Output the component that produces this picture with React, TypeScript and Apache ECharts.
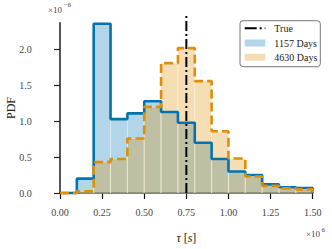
import React, { useEffect, useRef } from "react";
import * as echarts from "echarts";

// bin edges in units of 1e6 s
const binEdges = [0, 0.1, 0.2, 0.3, 0.4, 0.5, 0.6, 0.7, 0.8, 0.9, 1.0, 1.1, 1.2, 1.3, 1.4, 1.5];
// PDF values in units of 1e-6
const pdf1157 = [0, 0.2, 2.36, 1.03, 1.11, 1.28, 1.13, 0.98, 0.7, 0.475, 0.3, 0.25, 0.12, 0.08, 0.07];
const pdf4630 = [0, 0.025, 0.43, 0.475, 0.76, 1.2, 1.81, 2.02, 1.56, 0.86, 0.48, 0.23, 0.1, 0.065, 0.05];
const trueValue = 0.75;
const xTicks = [0, 0.25, 0.5, 0.75, 1.0, 1.25, 1.5];
const yTicks = [0, 0.5, 1.0, 1.5, 2.0];
const labels = ["True", "1157 Days", "4630 Days"];

const BLUE = "#0173b2";
const ORANGE = "#de8f05";
const BLUE_FILL = "rgba(1,115,178,0.3)";
const ORANGE_FILL = "rgba(222,143,5,0.3)";
const FONT = "Liberation Serif";

function barData(vals: number[]) {
  return vals.map((v, i) => [binEdges[i], binEdges[i + 1], v]);
}
function stepData(vals: number[]) {
  const pts: number[][] = vals.map((v, i) => [binEdges[i], v]);
  pts.push([binEdges[binEdges.length - 1], vals[vals.length - 1]]);
  pts.push([binEdges[binEdges.length - 1], 0]);
  return pts;
}

function barSeries(vals: number[], fill: string) {
  return {
    type: "custom",
    data: barData(vals),
    encode: { x: [0, 1], y: 2 },
    clip: false,
    renderItem: (params: any, api: any) => {
      const p0 = api.coord([api.value(0), 0]);
      const p1 = api.coord([api.value(1), api.value(2)]);
      return {
        type: "rect",
        shape: { x: p0[0], y: p1[1], width: p1[0] - p0[0], height: p0[1] - p1[1] },
        style: { fill, stroke: "rgba(255,255,255,0.45)", lineWidth: 0.8 },
      };
    },
  };
}

export default function App() {
  const ref = useRef<HTMLDivElement>(null);
  useEffect(() => {
    if (!ref.current) return;
    const chart = echarts.init(ref.current, null, { renderer: "svg" });
    const lx = 244.7;
    const tx = 274.3;
    const rows = [28.3, 43, 57.3];
    chart.setOption({
      animation: false,
      backgroundColor: "#fff",
      grid: { left: 60, right: 19.3, top: 23, bottom: 46.3 },
      xAxis: {
        type: "value",
        min: 0,
        max: 1.5,
        interval: 0.25,
        offset: 6,
        axisLine: { show: true, lineStyle: { color: "#111", width: 1.5 } },
        axisTick: { show: true, length: 6, lineStyle: { color: "#111", width: 1.2 }, customValues: xTicks },
        axisLabel: {
          customValues: xTicks,
          margin: 8,
          color: "#444",
          fontFamily: FONT,
          fontSize: 10,
          formatter: (v: number) => v.toFixed(2),
        },
        splitLine: { show: false },
        name: "{i|τ} [{i|s}]",
        nameLocation: "middle",
        nameGap: 33,
        nameTextStyle: {
          fontFamily: FONT,
          fontSize: 12,
          color: "#222",
          rich: { i: { fontFamily: FONT, fontSize: 12, fontStyle: "italic", color: "#222" } },
        },
      },
      yAxis: {
        type: "value",
        min: 0,
        max: 2.37,
        offset: 18.3,
        axisLine: { show: true, lineStyle: { color: "#555", width: 2 } },
        axisTick: { show: true, length: 6, lineStyle: { color: "#222", width: 1.2 }, customValues: yTicks },
        axisLabel: {
          customValues: yTicks,
          margin: 10,
          color: "#444",
          fontFamily: FONT,
          fontSize: 10,
          formatter: (v: number) => v.toFixed(1),
        },
        splitLine: { show: false },
      },
      series: [
        barSeries(pdf1157, BLUE_FILL),
        barSeries(pdf4630, ORANGE_FILL),
        {
          type: "line",
          name: labels[1],
          data: stepData(pdf1157),
          step: "end",
          symbol: "none",
          clip: false,
          lineStyle: { color: BLUE, width: 2.6 },
          z: 3,
        },
        {
          type: "line",
          name: labels[2],
          data: stepData(pdf4630),
          step: "end",
          symbol: "none",
          clip: false,
          lineStyle: { color: ORANGE, width: 2.6, type: [9, 4] },
          z: 4,
        },
        {
          type: "custom",
          name: labels[0],
          data: [[trueValue, 0, 2.476]],
          encode: { x: 0, y: [1, 2] },
          clip: false,
          z: 5,
          renderItem: (params: any, api: any) => {
            const a = api.coord([api.value(0), api.value(1)]);
            const b = api.coord([api.value(0), api.value(2)]);
            return {
              type: "line",
              shape: { x1: a[0], y1: a[1], x2: b[0], y2: b[1] },
              style: { stroke: "#000", lineWidth: 2, lineDash: [10, 3, 2, 3] },
            };
          },
        },
      ],
      graphic: [
        { type: "text", left: 48, top: 5, style: { text: "×10", fontFamily: FONT, fontSize: 9, fill: "#444" } },
        { type: "text", left: 63.5, top: 1.5, style: { text: "−6", fontFamily: FONT, fontSize: 7, fill: "#444" } },
        { type: "text", left: 306, top: 229.5, style: { text: "×10", fontFamily: FONT, fontSize: 9, fill: "#444" } },
        { type: "text", left: 321.5, top: 226, style: { text: "6", fontFamily: FONT, fontSize: 7, fill: "#444" } },
        {
          type: "text",
          x: 10.5,
          y: 108,
          rotation: Math.PI / 2,
          style: {
            text: "PDF",
            fontFamily: FONT,
            fontSize: 12,
            fill: "#222",
            align: "center",
            verticalAlign: "middle",
          },
        },
        {
          type: "rect",
          shape: { x: 240, y: 20.7, width: 80.3, height: 46, r: 3 },
          style: { fill: "rgba(255,255,255,0.85)", stroke: "#777", lineWidth: 1 },
          z: 10,
        },
        {
          type: "line",
          shape: { x1: lx, y1: rows[0], x2: lx + 20.6, y2: rows[0] },
          style: { stroke: "#000", lineWidth: 2, lineDash: [12, 3, 2, 3] },
          z: 11,
        },
        {
          type: "rect",
          shape: { x: lx, y: rows[1] - 3.5, width: 20.6, height: 7 },
          style: { fill: BLUE_FILL },
          z: 11,
        },
        {
          type: "rect",
          shape: { x: lx, y: rows[2] - 3.5, width: 20.6, height: 7 },
          style: { fill: ORANGE_FILL },
          z: 11,
        },
        ...labels.map((t, i) => ({
          type: "text",
          x: tx,
          y: rows[i],
          z: 11,
          style: { text: t, fontFamily: FONT, fontSize: 10, fill: "#222", verticalAlign: "middle" },
        })),
      ],
    });
    return () => chart.dispose();
  }, []);
  return (
    <div
      ref={ref}
      style={{ position: "fixed", left: 0, top: 0, width: 332, height: 249 }}
    />
  );
}
